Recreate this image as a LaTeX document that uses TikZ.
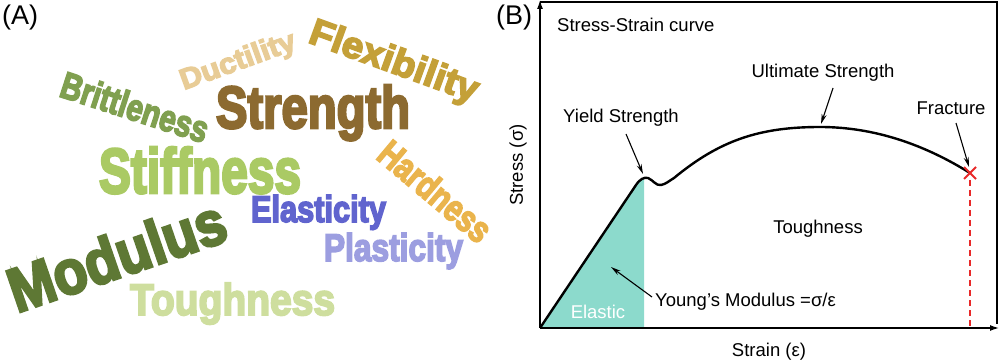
\documentclass[tikz,border=0pt]{standalone}
\usepackage{fontspec}
\usepackage{graphicx}
\setmainfont{Liberation Sans}
\newfontfamily\cloudfont{Liberation Sans}[BoldFeatures={FakeBold=4.5}]
\usetikzlibrary{arrows.meta}
\definecolor{cDuct}{RGB}{232,204,150}
\definecolor{cFlex}{RGB}{196,160,56}
\definecolor{cBrit}{RGB}{128,160,80}
\definecolor{cStre}{RGB}{140,106,48}
\definecolor{cStif}{RGB}{170,202,100}
\definecolor{cHard}{RGB}{234,180,76}
\definecolor{cElas}{RGB}{96,100,206}
\definecolor{cPlas}{RGB}{156,158,224}
\definecolor{cModu}{RGB}{94,120,52}
\definecolor{cToug}{RGB}{206,222,158}
\definecolor{cFill}{RGB}{140,218,204}
\definecolor{cRed}{RGB}{232,40,40}
\begin{document}
\begin{tikzpicture}[x=1pt,y=-1pt,
  cloud/.style={inner sep=0pt, outer sep=0pt, anchor=base west, font=\cloudfont\bfseries},
  lbl/.style={inner sep=0pt, font=\fontsize{18.5}{22}\selectfont},
  panel/.style={inner sep=0pt, font=\fontsize{27}{32}\selectfont},
  ptr/.style={-{Stealth[length=10pt,width=5pt]}, line width=1.1pt},
  axis/.style={line width=1.3pt},
  curve/.style={line width=2.4pt, line join=round}]
\useasboundingbox (0,0) rectangle (1000,363);
% ---------- (A) word cloud ----------
\node[panel, anchor=west] (pa) at (2,18) {(A)};
\node[cloud, text=cStre] (wStrength) at (216,128) {\resizebox{194pt}{43pt}{Strength}};
\node[cloud, text=cStif] (wStiffness) at (99,193) {\resizebox{202pt}{46pt}{Stiffness}};
\node[cloud, text=cElas] (wElasticity) at (251,222) {\resizebox{135pt}{27pt}{Elasticity}};
\node[cloud, text=cPlas] (wPlasticity) at (324,261) {\resizebox{139pt}{28pt}{Plasticity}};
\node[cloud, text=cToug] (wToughness) at (130,315) {\resizebox{205pt}{32pt}{Toughness}};
\node[cloud, text=cModu, rotate=19] (wModulus) at (17,313) {\resizebox{226pt}{45pt}{Modulus}};
\node[cloud, text=cBrit, rotate=-18] (wBrittleness) at (58,96) {\resizebox{153pt}{27pt}{Brittleness}};
\node[cloud, text=cDuct, rotate=20] (wDuctility) at (184,90) {\resizebox{121pt}{21pt}{Ductility}};
\node[cloud, text=cFlex, rotate=-20] (wFlexibility) at (307,42) {\resizebox{177pt}{27pt}{Flexibility}};
\node[cloud, text=cHard, rotate=-40] (wHardness) at (375,158) {\resizebox{135pt}{27pt}{Hardness}};
% ---------- (B) stress-strain ----------
\node[panel] (pb) at (514,18) {(B)};
\coordinate (o) at (540,328);
\coordinate (ytop) at (540,0);
\coordinate (xend) at (999,328);
\coordinate (tl) at (540,2);
\coordinate (tr) at (997,2);
\coordinate (br) at (997,324);
\coordinate (yld) at (644,178);
\coordinate (fr) at (970,173);
\coordinate (frb) at (970,328);
% elastic fill
\fill[cFill] (o) -- (636,185) -- (640,180) -- (yld) -- (644,328) -- cycle;
% frame and axes
\draw[axis] (tl) -- (tr) -- (br);
\draw[axis,-{Latex[length=9pt,width=6pt]}] (o) -- (ytop);
\draw[axis,-{Latex[length=9pt,width=6pt]}] (o) -- (xend);
% curve
\draw[curve] (o) -- (636,185) .. controls (640,179) and (644,177) .. (648,178)
  .. controls (653,180) and (656,186) .. (661,185)
  .. controls (666,184) and (669,181) .. (674,178)
  .. controls (720,140) and (760,127) .. (820,127)
  .. controls (875,127) and (925,145) .. (fr);
% fracture
\draw[cRed, line width=1.5pt, dash pattern=on 6pt off 4pt] (970,180) -- (frb);
\draw[cRed, line width=2pt] (964,167) -- (976,179) (964,179) -- (976,167);
% labels
\node[lbl, anchor=west] (title) at (557,25) {Stress-Strain curve};
\node[lbl] (ult) at (823,73) {Ultimate Strength};
\node[lbl] (frac) at (951,108) {Fracture};
\node[lbl] (yield) at (621,118) {Yield Strength};
\node[lbl] (tough) at (818,229) {Toughness};
\node[lbl, anchor=west] (young) at (655,302) {Young's Modulus =σ/ε};
\node[lbl, text=white] (elastic) at (598,312) {Elastic};
\node[lbl, rotate=90] (ylab) at (518,165) {Stress (σ)};
\node[lbl] (xlab) at (769,352) {Strain (ε)};
% pointers
\coordinate (ultS) at (833,88); \coordinate (ultE) at (821,124);
\coordinate (frS) at (956,123); \coordinate (frE) at (969,167);
\coordinate (yS) at (626,134); \coordinate (yE) at (643,174);
\coordinate (mS) at (652,297); \coordinate (mE) at (611,267);
\draw[ptr] (ultS) -- (ultE);
\draw[ptr] (frS) -- (frE);
\draw[ptr] (yS) -- (yE);
\draw[ptr] (mS) -- (mE);
\end{tikzpicture}
\end{document}
